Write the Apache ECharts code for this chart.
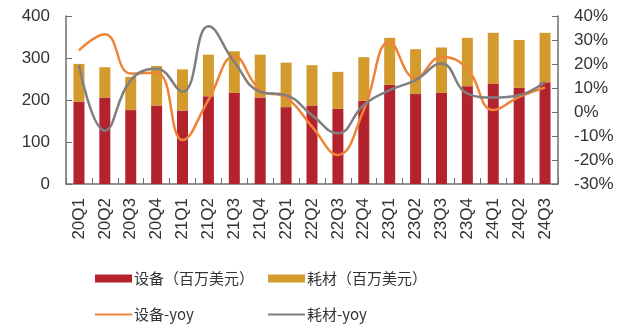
<!DOCTYPE html>
<html><head><meta charset="utf-8">
<script src="https://cdn.jsdelivr.net/npm/echarts@6/dist/echarts.min.js"></script>
<style>html,body{margin:0;padding:0;background:#fff}#c{width:634px;height:327px}</style>
</head><body><div id="c"></div>
<script>
const categories = ['20Q1','20Q2','20Q3','20Q4','21Q1','21Q2','21Q3','21Q4','22Q1','22Q2','22Q3','22Q4','23Q1','23Q2','23Q3','23Q4','24Q1','24Q2','24Q3'];
const equipment = [196,206,176,187,175,209,217,206,183,187,179,198,236,214,217,233,239,229,242];
const consumables = [90,72,79,94,98,99,99,102,106,96,88,104,112,107,108,115,121,114,118];
const equipmentYoy = [25.7,32.4,16,16.5,-11.7,5,23.2,9.1,6,-6.1,-17.9,0.8,29.2,14,23,18,0.8,6.3,10.2];
const consumablesYoy = [19.5,-7.8,13.3,18,8.4,35.7,20.8,8.4,7,-1.3,-8.9,2.9,9.1,13.3,20.2,7.7,6,7,12.6];
const leftTicks = {min:0,max:400,interval:100};
const rightTicks = {min:-30,max:40,interval:10};

const font = "'Liberation Sans', Arial, 'Noto Sans CJK SC', sans-serif";
const cjk = "'Noto Sans CJK SC', 'Liberation Sans', sans-serif";
const RED = '#B3232E', GOLD = '#D39B2E', ORANGE = '#EE8438', GRAY = '#7F7F7F';
const axisLine = {show:true, lineStyle:{color:'#6e6e6e', width:1.5}};
function leg(name, left, top, icon, h, color){
  return {data:[{name, icon}], left, top, itemWidth:37, itemHeight:h, itemGap:0,
    textStyle:{fontFamily:cjk, fontSize:15, color:'#333', padding:[0,0,0,-3]}, selectedMode:false};
}
const chart = echarts.init(document.getElementById('c'));
chart.setOption({
  animation:false,
  grid:{left:66, right:76, top:16, bottom:143, containLabel:false},
  legend:[
    leg('设备（百万美元）', 90, 266, 'rect', 8),
    leg('耗材（百万美元）', 263, 266, 'rect', 8),
    leg('设备-yoy', 90, 302, 'rect', 2),
    leg('耗材-yoy', 263, 302, 'rect', 2)
  ],
  xAxis:{type:'category', data:categories, axisLine,
    axisTick:{show:true, inside:true, length:6, lineStyle:{color:'#6e6e6e'}},
    axisLabel:{rotate:90, margin:14, fontSize:17, color:'#333', fontFamily:font}},
  yAxis:[
    {type:'value', ...leftTicks, axisLine, splitLine:{show:false},
     axisTick:{show:true, inside:true, length:6, lineStyle:{color:'#6e6e6e'}},
     axisLabel:{fontSize:17, color:'#333', fontFamily:font, margin:16}},
    {type:'value', ...rightTicks, position:'right', axisLine, splitLine:{show:false},
     axisTick:{show:true, inside:true, length:6, lineStyle:{color:'#6e6e6e'}},
     axisLabel:{fontSize:17, color:'#333', fontFamily:font, margin:16, formatter:'{value}%'}}
  ],
  series:[
    {name:'设备（百万美元）', type:'bar', stack:'a', data:equipment, barWidth:11, itemStyle:{color:RED}},
    {name:'耗材（百万美元）', type:'bar', stack:'a', data:consumables, barWidth:11, itemStyle:{color:GOLD}},
    {name:'设备-yoy', type:'line', yAxisIndex:1, data:equipmentYoy, smooth:0.45, symbol:'none',
     lineStyle:{color:ORANGE, width:2.5}, itemStyle:{color:ORANGE}},
    {name:'耗材-yoy', type:'line', yAxisIndex:1, data:consumablesYoy, smooth:0.45, symbol:'none',
     lineStyle:{color:GRAY, width:2.5}, itemStyle:{color:GRAY}}
  ]
});
</script></body></html>
